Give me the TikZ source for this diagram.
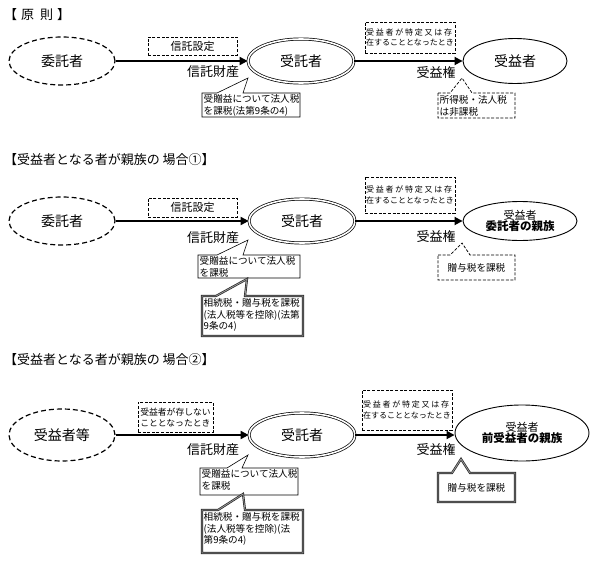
\documentclass[tikz,border=0pt]{standalone}
\usepackage{fontspec}
\setmainfont{Noto Sans CJK JP}
\usetikzlibrary{shapes.geometric,arrows.meta}
\newcommand{\callpath}[8][]{%
  \draw[#1] (#2,#3) -- (#6,#3) -- (#8) -- (#7,#3) -- (#4,#3) -- (#4,#5) -- (#2,#5) -- cycle;}
\newcommand{\spreadline}{\makebox[86pt]{受\hfill 益\hfill 者\hfill が\hfill 特\hfill 定\hfill 又\hfill は\hfill 存}}
\tikzset{
  ttl/.style={anchor=west, inner sep=0pt, font=\fontsize{13}{15}\selectfont},
  lbl/.style={inner sep=0pt, font=\fontsize{13}{15}\selectfont},
  dashell/.style={ellipse, draw, line width=1.2pt, dash pattern=on 5pt off 3pt,
     minimum width=106pt, minimum height=48pt, inner sep=0pt, font=\fontsize{14}{16}\selectfont},
  dblell/.style={ellipse, draw, double, line width=0.7pt, double distance=1.6pt,
     minimum width=106pt, minimum height=44pt, inner sep=0pt, font=\fontsize{14}{16}\selectfont},
  sglell/.style={ellipse, draw, line width=0.9pt, inner sep=0pt, align=center},
  arr/.style={line width=1.8pt, -{Triangle[length=8pt,width=8pt]}},
  dbox/.style={draw, line width=0.7pt, dash pattern=on 3pt off 1.6pt, inner sep=1pt, align=left,
     font=\fontsize{8}{10.5}\selectfont},
  cpath/.style={draw, fill=white, line width=0.6pt},
  cdash/.style={draw, fill=white, line width=0.7pt, dash pattern=on 3pt off 1.6pt},
  cdbl/.style={draw=black!85, double=black!40, double distance=0.8pt, line width=0.7pt, fill=white},
  ctext/.style={anchor=north west, inner sep=1.5pt, align=left, font=\fontsize{9.6}{11.5}\selectfont},
}
\begin{document}
\begin{tikzpicture}[x=1pt,y=-1pt]
\useasboundingbox (0,0) rectangle (600,562);

% ---------------- Section 1 ----------------
\node[ttl] (h1) at (4,15) {【\hspace{4pt}原\hspace{6pt}則\hspace{4pt}】};
\node[dashell] (e1a) at (62,61) {委託者};
\node[dblell] (t1) at (301,61) {受託者};
\node[sglell, minimum width=104pt, minimum height=45pt, font=\fontsize{14}{16}\selectfont] (b1) at (515,61) {受益者};
\draw[arr] (e1a) -- (t1);
\draw[arr] (t1) -- (b1);
\node[dbox, minimum width=89pt, minimum height=18pt, align=center, font=\fontsize{11}{13}\selectfont] (s1) at (192.5,46) {信託設定};
\node[lbl] (p1) at (213,72) {信託財産};
\node[dbox, minimum width=90pt, minimum height=31pt] (c1) at (410,37.5) {\spreadline\\在することとなったとき};
\node[lbl] (r1) at (436,73) {受益権};
\coordinate (tA1) at (248,78);
\callpath[cpath]{202}{93}{300}{117}{217}{243}{tA1}
\node[ctext] (nA1) at (202,93) {受贈益について法人税\\を課税(法第9条の4)};
\coordinate (tA2) at (462,78);
\callpath[cdash]{438}{93}{515}{118}{450}{472}{tA2}
\node[ctext] (nA2) at (438,94) {所得税・法人税\\は非課税};

% ---------------- Section 2 ----------------
\node[ttl] (h2) at (4,160) {【受益者となる者が親族の 場合①】};
\node[dashell] (e2a) at (62,221) {委託者};
\node[dblell] (t2) at (302,221) {受託者};
\node[sglell, minimum width=114pt, minimum height=39pt] (b2) at (520,221)
  {{\fontsize{11}{13}\selectfont 受益者}\\[-1pt]{\fontsize{11.5}{13}\selectfont\bfseries 委託者の親族}};
\draw[arr] (e2a) -- (t2);
\draw[arr] (t2) -- (b2);
\node[dbox, minimum width=89pt, minimum height=19pt, align=center, font=\fontsize{11}{13}\selectfont] (s2) at (192.5,207.5) {信託設定};
\node[lbl] (p2) at (213,238) {信託財産};
\node[dbox, minimum width=90pt, minimum height=36pt] (c2) at (410,195) {\spreadline\\在することとなったとき};
\node[lbl] (r2) at (436,237) {受益権};
\coordinate (tB1) at (248,240);
\callpath[cpath]{198}{255}{300}{278}{217}{243}{tB1}
\node[ctext] (nB1) at (198,255) {受贈益について法人税\\を課税};
\coordinate (tB2) at (247,279);
\callpath[cdbl]{202}{296}{303}{336}{216}{245}{tB2}
\node[ctext] (nB2) at (202,297) {相続税・贈与税を課税\\(法人税等を控除)(法第\\9条の4)};
\coordinate (tB3) at (462,243);
\callpath[cdash]{438}{255}{515}{280}{450}{470}{tB3}
\node[ctext, anchor=center] (nB3) at (476.5,268) {贈与税を課税};

% ---------------- Section 3 ----------------
\node[ttl] (h3) at (4,360) {【受益者となる者が親族の 場合②】};
\node[dashell, minimum height=52pt] (e3a) at (62,435) {受益者等};
\node[dblell] (t3) at (302,435) {受託者};
\node[sglell, minimum width=134pt, minimum height=56pt] (b3) at (522,433)
  {{\fontsize{11}{13}\selectfont 受益者}\\[-1pt]{\fontsize{11.5}{13}\selectfont\bfseries 前受益者の親族}};
\draw[arr] (e3a) -- (t3);
\draw[arr] (t3) -- (b3.west |- t3);
\node[dbox, minimum width=75pt, minimum height=30pt, font=\fontsize{8.8}{11}\selectfont] (s3) at (175.5,417) {受益者が存しない\\こととなったとき};
\node[lbl] (p3) at (213,450) {信託財産};
\node[dbox, minimum width=90pt, minimum height=40pt] (c3) at (407,410) {\spreadline\\在することとなったとき};
\node[lbl] (r3) at (436,450) {受益権};
\coordinate (tC1) at (248,455);
\callpath[cpath]{200}{468}{298}{495}{227}{242}{tC1}
\node[ctext] (nC1) at (200,468) {受贈益について法人税\\を課税};
\coordinate (tC2) at (243,494);
\callpath[cdbl]{202}{510}{303}{553}{218}{245}{tC2}
\node[ctext] (nC2) at (202,511) {相続税・贈与税を課税\\(法人税等を控除)(法\\第9条の4)};
\coordinate (tC3) at (461,459);
\callpath[cdbl]{438}{473}{515}{502}{452}{470}{tC3}
\node[ctext, anchor=center] (nC3) at (476.5,487.5) {贈与税を課税};
\end{tikzpicture}
\end{document}
